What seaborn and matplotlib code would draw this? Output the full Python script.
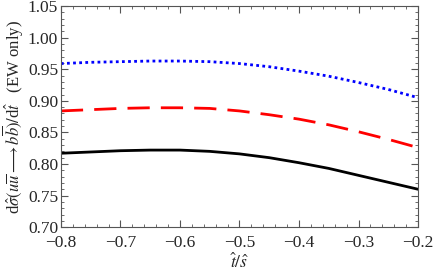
import pandas as pd
import seaborn as sns
import matplotlib.pyplot as plt
from matplotlib.ticker import MultipleLocator

# values
t_over_s = [-0.8, -0.75, -0.7, -0.65, -0.6, -0.55, -0.5, -0.45, -0.4, -0.35, -0.3, -0.25, -0.2]
blue_dotted = [0.959, 0.961, 0.962, 0.963, 0.963, 0.962, 0.959, 0.954, 0.947, 0.939, 0.929, 0.918, 0.905]
red_dashed = [0.884, 0.886, 0.888, 0.889, 0.889, 0.888, 0.884, 0.878, 0.871, 0.862, 0.851, 0.839, 0.826]
black_solid = [0.817, 0.819, 0.821, 0.822, 0.822, 0.820, 0.816, 0.810, 0.802, 0.793, 0.782, 0.771, 0.760]

sns.set_style("ticks")
plt.rcParams['font.family'] = ['Liberation Serif', 'DejaVu Serif']
plt.rcParams['mathtext.fontset'] = 'stix'

df = pd.DataFrame({"x": t_over_s * 3,
                   "y": blue_dotted + red_dashed + black_solid,
                   "curve": ["blue"] * 13 + ["red"] * 13 + ["black"] * 13})

fig = plt.figure(figsize=(4.35, 2.77), dpi=100)
ax = fig.add_axes([0.140, 0.180, 0.821, 0.798])

styles = {"blue": ("#0000ff", (0, (1, 1.2))), "red": ("#ff0000", (0, (8, 4))), "black": ("black", "-")}
for name, (col, ls) in styles.items():
    sub = df[df.curve == name]
    sns.lineplot(data=sub, x="x", y="y", ax=ax, color=col, linewidth=2.0, linestyle=ls)

ax.set_xlim(-0.8, -0.2)
ax.set_ylim(0.70, 1.05)
ax.xaxis.set_major_locator(MultipleLocator(0.1))
ax.xaxis.set_minor_locator(MultipleLocator(0.02))
ax.yaxis.set_major_locator(MultipleLocator(0.05))
ax.yaxis.set_minor_locator(MultipleLocator(0.01))
ax.tick_params(which="both", direction="in", top=True, right=True, labelsize=12.5, color="#555555")
ax.tick_params(which="major", length=5)
ax.tick_params(which="minor", length=2.5)
ax.tick_params(axis="x", pad=6)
ax.tick_params(axis="y", pad=2)
ax.xaxis.set_major_formatter(plt.FuncFormatter(lambda v, p: f"{v:.1f}".replace("-", "\u2212")))
ax.yaxis.set_major_formatter(plt.FuncFormatter(lambda v, p: f"{v:.2f}"))
for s in ax.spines.values():
    s.set_color("#555555")
    s.set_linewidth(0.8)

ax.set_xlabel(r"$\hat{t}/\hat{s}$", fontsize=12.5, labelpad=1)
ax.set_ylabel(r"d$\hat{\sigma}(u\overline{u}\longrightarrow b\overline{b})/$d$\hat{t}$   (EW only)",
              fontsize=12, labelpad=1)

fig.savefig("out.png", dpi=100)
